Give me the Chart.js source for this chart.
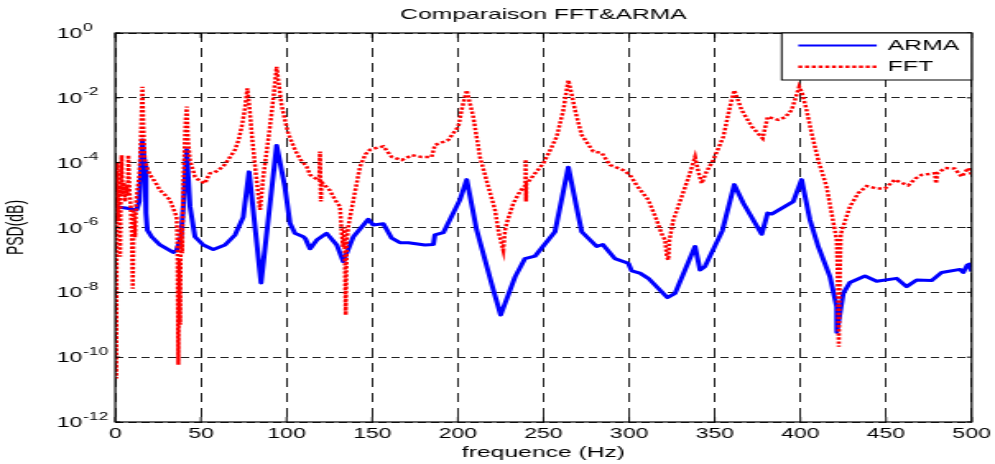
<!DOCTYPE html>
<html><head><meta charset="utf-8">
<script src="https://cdn.jsdelivr.net/npm/chart.js@4/dist/chart.umd.min.js"></script>
<style>html,body{margin:0;padding:0;background:#fff;overflow:hidden}canvas{display:block}</style>
</head><body>
<canvas id="c" width="605" height="464" style="width:995px;height:464px"></canvas>
<script>
const chartTitle = 'Comparaison FFT&ARMA';
const xAxisTitle = 'frequence (Hz)';
const yAxisTitle = 'PSD(dB)';
const seriesNames = ['ARMA', 'FFT'];
const xTickValues = [0, 50, 100, 150, 200, 250, 300, 350, 400, 450, 500];
const yTickValues = [1e-12, 1e-10, 1e-8, 1e-6, 1e-4, 1e-2, 1];
const yTickBase = '10';
const yTickExponents = ['-12', '-10', '-8', '-6', '-4', '-2', '0'];

const armaFreq = [0, 6, 12.5, 14, 15.8, 17.3, 17.9, 18.7, 21.2, 26.1, 33.9, 35.8, 38.4, 39.7, 41.7, 43.6, 46.5, 51.4, 57.2, 64,
  69.9, 74.7, 75.7, 78.1, 85.1, 94.2, 99, 102, 104.9, 109.8, 111, 113.7, 117.6, 123.4, 129.3, 133.1, 139, 147.7, 150.6, 156.5,
  161.4, 166.2, 171.1, 180.8, 185.7, 186.6, 191.5, 201.2, 205.2, 211, 220.7, 225, 233.4, 239.2, 245, 256.7, 264.5, 272.3, 281.1, 284.6,
  291.7, 299.5, 301.5, 306.3, 311.2, 322.3, 326.8, 338.5, 341.4, 344.3, 354.4, 361.4, 366.7, 377.4, 380.9, 383.2, 395.8, 400.7, 405.6, 410.4,
  417.3, 421.2, 421.3, 423.1, 425, 428.9, 437.7, 444.5, 456.2, 462, 467.9, 476.6, 482.5, 493.2, 495.1, 497.4, 498.6, 500];
const armaPsd = [4.4e-6, 4.0e-6, 3.5e-6, 6.3e-6, 5.0e-4, 7.6e-5, 2.8e-6, 8.3e-7, 5.2e-7, 2.9e-7, 1.7e-7, 2.0e-7, 5.2e-7, 4.4e-6, 2.5e-4, 4.4e-6, 5.2e-7, 2.9e-7, 2.1e-7, 2.9e-7,
  5.9e-7, 2.1e-6, 5.6e-6, 5.2e-5, 1.95e-8, 3.4e-4, 1.8e-5, 1.35e-6, 6.6e-7, 5.2e-7, 4.5e-7, 2.2e-7, 4.1e-7, 6.6e-7, 2.9e-7, 8.9e-8, 5.2e-7, 1.8e-6, 1.2e-6, 1.3e-6,
  4.7e-7, 3.4e-7, 3.4e-7, 2.9e-7, 3.0e-7, 5.9e-7, 6.9e-7, 7.1e-6, 3.0e-5, 8.3e-7, 1.2e-8, 2.0e-9, 3.0e-8, 1.1e-7, 1.3e-7, 7.4e-7, 7.2e-5, 7.4e-7, 2.6e-7, 3.0e-7,
  1.1e-7, 7.9e-8, 4.6e-8, 3.9e-8, 2.7e-8, 6.9e-9, 9.3e-9, 2.6e-7, 4.9e-8, 6.3e-8, 7.9e-7, 2.1e-5, 5.6e-6, 6.2e-7, 2.8e-6, 2.6e-6, 6.3e-6, 3.0e-5, 1.7e-6, 2.6e-7,
  3.0e-8, 3.6e-9, 5.9e-10, 2.2e-9, 9.3e-9, 2.0e-8, 3.2e-8, 2.2e-8, 2.7e-8, 1.5e-8, 2.4e-8, 2.3e-8, 4.1e-8, 5.1e-8, 4.1e-8, 6.9e-8, 7.4e-8, 4.4e-8];

const fftFreq = [0, 0.5, 1.0, 1.5, 2.2, 2.8, 3.3, 3.7, 4.2, 5, 5.8, 6.5, 7.2, 7.6, 8.3, 9.0, 9.6, 10.2, 10.8, 11.5,
  12.2, 13, 14, 15, 15.8, 16.4, 17.2, 18.3, 20, 22.2, 24, 26, 28, 30, 31.9, 33, 34.5, 35.8, 36.3, 36.8,
  37.3, 37.8, 38.3, 39, 39.7, 40.5, 41.2, 41.7, 42.3, 43.6, 46.5, 49, 52.4, 53.5, 55.3, 58, 63, 66, 69.9, 72,
  73.8, 75.5, 77.1, 78.5, 80, 82, 84.5, 86.4, 88.5, 90.3, 92.3, 94.2, 95.5, 97, 99.1, 101, 104.9, 108, 111.7, 113.7,
  116, 119, 119.5, 120, 120.5, 122.4, 125.3, 128.3, 131.2, 132.2, 133, 133.8, 134.5, 135.2, 136, 139, 142.9, 146, 148.7, 152,
  156.5, 161.4, 167.2, 173.1, 178.9, 184.7, 186.6, 194.4, 200.3, 202.5, 205.2, 209, 212.9, 217.8, 221.7, 223.6, 225, 226.5, 227.5, 228.5,
  232.4, 236.3, 239.4, 239.6, 239.8, 240, 242.1, 249.9, 254, 257.7, 261.6, 264.5, 266.5, 268.4, 272.3, 279.1, 284, 288.8, 296.6, 300.5,
  304.4, 311.2, 316.1, 319, 321, 322, 322.9, 323.5, 325.8, 330.7, 335.5, 338.5, 340.5, 342.4, 345, 349.1, 355, 358.9, 361.4, 365.7,
  371.6, 378, 379.5, 380.9, 387.1, 391, 394.9, 399.3, 401, 403.6, 406.6, 410.4, 415.3, 418.2, 421.2, 421.8, 422.4, 423, 423.6, 425,
  428.9, 433.8, 438.7, 444.5, 449.4, 455.2, 458, 463, 467, 470.8, 478.5, 479.2, 480, 484.4, 490, 494.1, 496, 498, 500];
const fftPsd = [5.0e-6, 2.2e-11, 1.0e-4, 1.6e-6, 2.0e-5, 1.26e-7, 3.2e-5, 1.7e-4, 1.0e-5, 2.5e-5, 6.3e-6, 2.0e-5, 1.0e-5, 1.7e-4, 1.26e-5, 5.0e-6, 6.3e-7, 1.3e-8, 3.2e-6, 5.0e-7,
  6.3e-6, 1.6e-5, 4.0e-5, 6.3e-4, 2.2e-2, 1.26e-3, 1.26e-4, 7.6e-5, 4.5e-5, 3.0e-5, 2.2e-5, 1.4e-5, 1.15e-5, 8.9e-6, 7.1e-6, 5.0e-6, 3.2e-6, 2.1e-6, 3.2e-7, 5.8e-11,
  1.0e-7, 1.0e-9, 1.0e-6, 1.6e-7, 2.5e-5, 3.2e-4, 2.5e-3, 5.4e-3, 6.3e-4, 1.2e-4, 3.7e-5, 2.8e-5, 2.3e-5, 3.2e-5, 4.7e-5, 5.0e-5, 7.6e-5, 1.26e-4, 2.5e-4, 5.0e-4,
  1.3e-3, 4.0e-3, 1.95e-2, 4.0e-3, 5.0e-4, 5.0e-5, 3.5e-6, 3.7e-5, 2.5e-4, 1.3e-3, 1.0e-2, 9.1e-2, 2.5e-2, 6.3e-3, 2.0e-3, 7.9e-4, 2.5e-4, 1.26e-4, 7.6e-5, 4.2e-5,
  3.5e-5, 2.8e-5, 2.2e-4, 6.3e-6, 2.5e-5, 2.0e-5, 1.4e-5, 7.1e-6, 4.4e-6, 6.6e-7, 2.5e-7, 1.0e-6, 2.0e-9, 4.0e-7, 1.07e-6, 7.1e-6, 7.6e-5, 1.8e-4, 2.5e-4, 2.8e-4,
  3.2e-4, 1.5e-4, 1.2e-4, 1.7e-4, 1.5e-4, 1.5e-4, 3.5e-4, 5.0e-4, 1.3e-3, 5.0e-3, 1.7e-2, 2.6e-3, 1.5e-4, 1.8e-5, 3.5e-6, 8.3e-7, 4.0e-7, 2.0e-7, 7.9e-7, 1.35e-6,
  5.6e-6, 1.3e-5, 2.0e-5, 1.26e-4, 6.3e-6, 2.2e-5, 3.0e-5, 9.5e-5, 2.5e-4, 6.3e-4, 4.2e-3, 3.5e-2, 1.26e-2, 4.2e-3, 7.1e-4, 2.2e-4, 2.0e-4, 8.5e-5, 5.9e-5, 4.2e-5,
  2.0e-5, 7.1e-6, 1.7e-6, 6.3e-7, 4.1e-7, 1.26e-7, 1.0e-7, 4.0e-7, 1.7e-6, 8.9e-6, 4.7e-5, 1.5e-4, 5.0e-5, 2.3e-5, 5.0e-5, 1.2e-4, 6.3e-4, 5.4e-3, 1.7e-2, 4.2e-3,
  1.3e-3, 5.6e-4, 1.26e-3, 2.6e-3, 2.1e-3, 2.5e-3, 4.2e-3, 2.2e-2, 1.4e-2, 4.2e-3, 7.9e-4, 1.2e-4, 1.8e-5, 2.8e-6, 4.1e-7, 3.2e-8, 2.1e-10, 3.2e-8, 6.3e-7, 1.07e-6,
  4.4e-6, 1.15e-5, 1.9e-5, 1.6e-5, 1.6e-5, 3.0e-5, 2.5e-5, 2.0e-5, 3.2e-5, 4.2e-5, 4.7e-5, 2.3e-5, 4.7e-5, 6.8e-5, 6.6e-5, 3.7e-5, 5.0e-5, 6.8e-5, 4.2e-5];

const FONT = '"Liberation Sans", Arial, Helvetica, sans-serif';
const armaColor = '#0000ff';
const fftColor = '#ff0000';
const fftDash = [2.4, 1.7];

const frame = {
  id: 'matlabFrame',
  afterDatasetsDraw(chart) {
    const {ctx, chartArea: a, scales} = chart;
    ctx.save();
    ctx.strokeStyle = '#000';
    ctx.lineWidth = 1;
    ctx.setLineDash([]);
    ctx.beginPath();
    for (const v of xTickValues) {
      const px = scales.x.getPixelForValue(v);
      ctx.moveTo(px, a.bottom); ctx.lineTo(px, a.bottom - 5);
      ctx.moveTo(px, a.top); ctx.lineTo(px, a.top + 5);
    }
    for (const v of yTickValues) {
      const py = scales.y.getPixelForValue(v);
      ctx.moveTo(a.left, py); ctx.lineTo(a.left + 3, py);
      ctx.moveTo(a.right, py); ctx.lineTo(a.right - 3, py);
    }
    ctx.stroke();
    ctx.lineWidth = 1.2;
    ctx.strokeRect(a.left, a.top, a.right - a.left, a.bottom - a.top);
    ctx.restore();
  },
  afterDraw(chart) {
    const {ctx, chartArea: a, scales} = chart;
    ctx.save();
    ctx.fillStyle = '#000';
    ctx.textAlign = 'left';
    ctx.textBaseline = 'alphabetic';
    yTickValues.forEach((v, i) => {
      const py = scales.y.getPixelForValue(v);
      ctx.font = '14px ' + FONT;
      ctx.fillText(yTickBase, 34.5, py + 5);
      ctx.font = '10.5px ' + FONT;
      ctx.fillText(yTickExponents[i], 50.6, py - 2.5);
    });
    const L = 475.3, R = a.right, T = a.top, B = 80;
    ctx.fillStyle = '#fff';
    ctx.fillRect(L, T, R - L, B - T);
    ctx.strokeStyle = '#000';
    ctx.lineWidth = 1;
    ctx.strokeRect(L, T, R - L, B - T);
    const rows = [{y: 45.5, color: armaColor, dash: [], w: 2}, {y: 66.7, color: fftColor, dash: fftDash, w: 2.5}];
    rows.forEach((r, i) => {
      ctx.beginPath();
      ctx.strokeStyle = r.color;
      ctx.lineWidth = r.w;
      ctx.setLineDash(r.dash);
      ctx.moveTo(485.4, r.y); ctx.lineTo(533.1, r.y);
      ctx.stroke();
      ctx.setLineDash([]);
      ctx.fillStyle = '#000';
      ctx.font = '15px ' + FONT;
      ctx.textBaseline = 'middle';
      ctx.fillText(seriesNames[i], 539.8, r.y + 0.5);
    });
    ctx.restore();
  }
};

new Chart(document.getElementById('c'), {
  type: 'line',
  data: {
    datasets: [
      {
        label: seriesNames[0],
        data: armaFreq.map((f, i) => ({x: f, y: armaPsd[i]})),
        borderColor: armaColor, borderWidth: 3, pointRadius: 0, tension: 0, fill: false, order: 2,
        borderJoinStyle: 'round'
      },
      {
        label: seriesNames[1],
        data: fftFreq.map((f, i) => ({x: f, y: fftPsd[i]})),
        borderColor: fftColor, borderWidth: 2.5, borderDash: fftDash, pointRadius: 0, tension: 0, fill: false, order: 1
      }
    ]
  },
  options: {
    responsive: false,
    animation: false,
    devicePixelRatio: 1,
    layout: {padding: {left: 0, right: 14.2, top: 0, bottom: 0}},
    plugins: {
      legend: {display: false},
      tooltip: {enabled: false},
      title: {
        display: true, text: chartTitle, fullSize: false, color: '#000',
        font: {family: FONT, size: 15, weight: 'normal'},
        padding: {top: 6, bottom: 9}
      }
    },
    scales: {
      x: {
        type: 'linear', min: 0, max: 500,
        afterBuildTicks: s => { s.ticks = xTickValues.map(v => ({value: v})); },
        afterFit: s => { s.height = 42; s.paddingLeft = 0; s.paddingRight = 0; },
        ticks: {color: '#000', font: {family: FONT, size: 14}, padding: 4, maxRotation: 0, autoSkip: false},
        grid: {color: '#222', lineWidth: 1, drawTicks: false},
        border: {display: false, dash: [9, 6]},
        title: {display: true, text: xAxisTitle, color: '#000', font: {family: FONT, size: 15}, padding: {top: 0, bottom: 2}}
      },
      y: {
        type: 'logarithmic', min: 1e-12, max: 1,
        afterBuildTicks: s => { s.ticks = yTickValues.map(v => ({value: v})); },
        afterFit: s => { s.width = 70.1; s.paddingTop = 0; s.paddingBottom = 0; },
        ticks: {display: false},
        grid: {color: '#222', lineWidth: 1, drawTicks: false},
        border: {display: false, dash: [5, 3]},
        title: {display: true, text: yAxisTitle, color: '#000', font: {family: FONT, size: 14}, padding: {top: 2, bottom: 0}}
      }
    }
  },
  plugins: [frame]
});
</script>
</body></html>
